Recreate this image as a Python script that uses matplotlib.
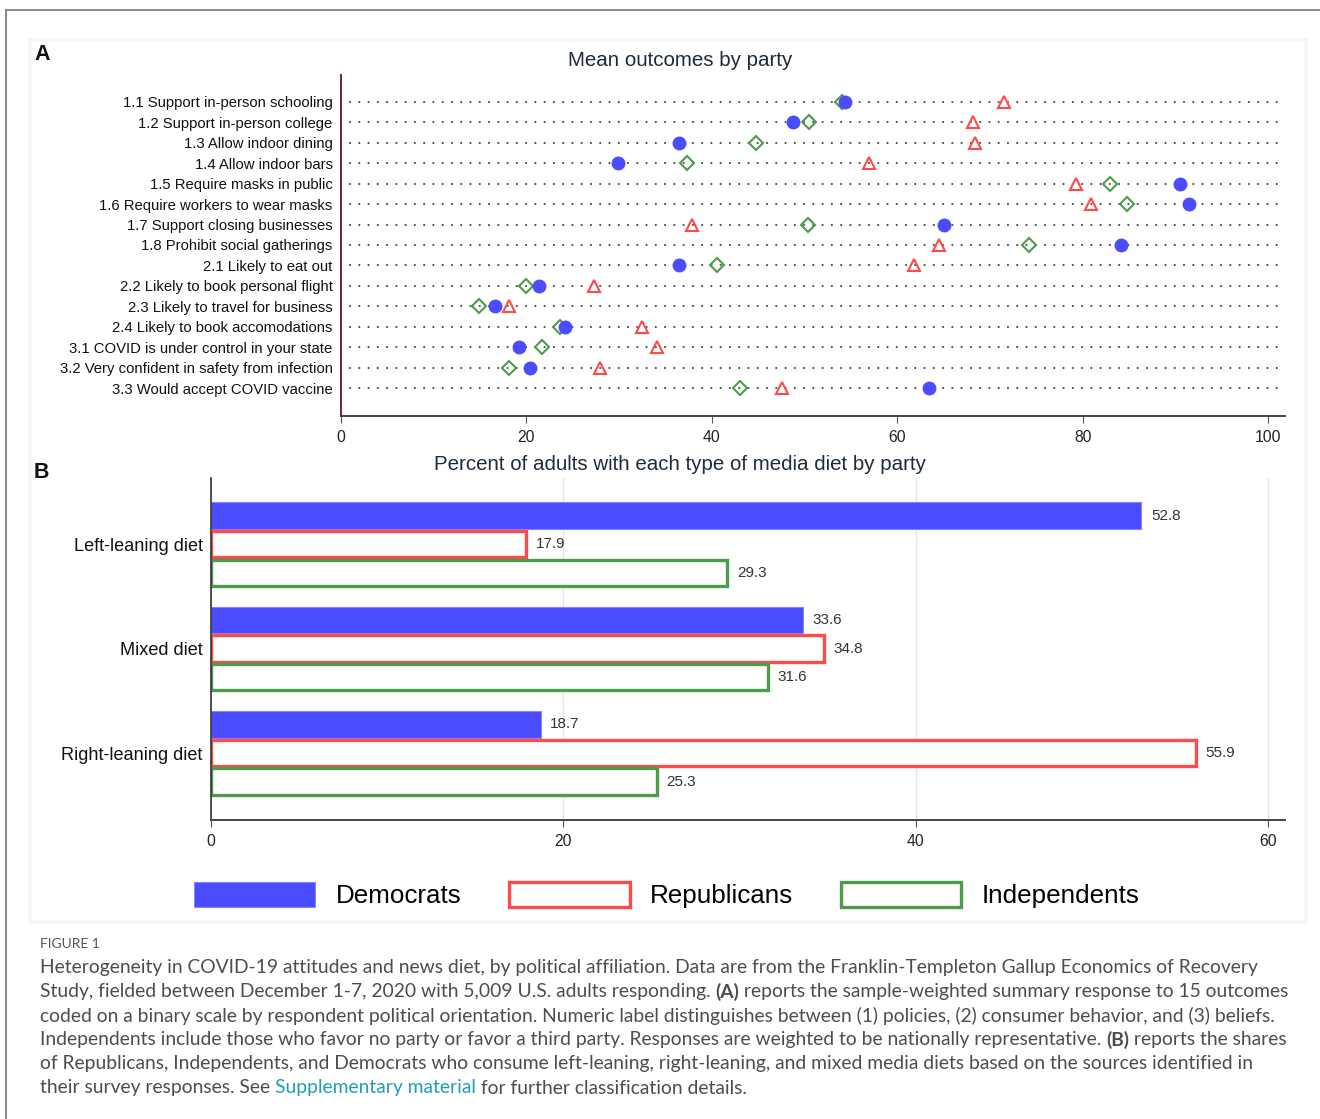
import matplotlib
matplotlib.use("Agg")
import matplotlib.pyplot as plt
from matplotlib.lines import Line2D
from matplotlib.patches import Rectangle
import numpy as np

W, H = 1320, 1119
SANS = ["Liberation Sans", "DejaVu Sans"]
CAPTION_FONT = ["Lato", "DejaVu Sans"]

plt.rcParams["font.family"] = SANS

# Panel A: mean outcomes by party (percent)
outcomes = [
    "1.1 Support in-person schooling",
    "1.2 Support in-person college",
    "1.3 Allow indoor dining",
    "1.4 Allow indoor bars",
    "1.5 Require masks in public",
    "1.6 Require workers to wear masks",
    "1.7 Support closing businesses",
    "1.8 Prohibit social gatherings",
    "2.1 Likely to eat out",
    "2.2 Likely to book personal flight",
    "2.3 Likely to travel for business",
    "2.4 Likely to book accomodations",
    "3.1 COVID is under control in your state",
    "3.2 Very confident in safety from infection",
    "3.3 Would accept COVID vaccine",
]
dem_mean = [54.4, 48.7, 36.5, 29.9, 90.5, 91.5, 65.0, 84.1, 36.5, 21.3, 16.6, 24.2, 19.2, 20.4, 63.4]
rep_mean = [71.5, 68.2, 68.4, 56.9, 79.3, 80.9, 37.8, 64.5, 61.8, 27.3, 18.1, 32.5, 34.1, 27.9, 47.6]
ind_mean = [54.0, 50.5, 44.7, 37.3, 82.9, 84.8, 50.4, 74.2, 40.6, 19.9, 14.9, 23.6, 21.7, 18.1, 43.0]

# Panel B: media diet shares by party (percent)
diets = ["Left-leaning diet", "Mixed diet", "Right-leaning diet"]
dem_diet = [52.8, 33.6, 18.7]
rep_diet = [17.9, 34.8, 55.9]
ind_diet = [29.3, 31.6, 25.3]

parties = ["Democrats", "Republicans", "Independents"]

BLUE = "#4b4bff"
RED = "#ff4a4a"
GREEN = "#4c9c4c"


def fx(px):
    return px / W


def fy(py):
    return 1 - py / H


fig = plt.figure(figsize=(W / 100, H / 100), dpi=100)
fig.patch.set_facecolor("white")

# page frame and figure panel
fig.add_artist(Line2D([fx(6), fx(6)], [fy(10), 0], transform=fig.transFigure,
                      color="#8c8c8c", lw=1.5))
fig.add_artist(Line2D([fx(6), 1], [fy(10), fy(10)], transform=fig.transFigure,
                      color="#8c8c8c", lw=1.5))
fig.add_artist(Rectangle((fx(30), fy(922)), fx(1306) - fx(30), fy(40) - fy(922),
                         transform=fig.transFigure, facecolor="white",
                         edgecolor="#f6f6f6", lw=3, zorder=0))

# ---- panel A ----
axA = fig.add_axes([fx(341), fy(416), (1285 - 341) / W, (416 - 75) / H])
axA.set_facecolor("none")
rows = np.arange(len(outcomes))
for r in rows:
    axA.plot([1, 101], [r, r], ls=(0, (0.01, 4.16)), lw=1.6, color="#505050",
             dash_capstyle="round", zorder=1)
axA.plot(ind_mean, rows, "D", ls="none", ms=7.5, mfc="none", mec=GREEN, mew=1.5, zorder=3)
axA.plot(rep_mean, rows, "^", ls="none", ms=8, mfc="none", mec=RED, mew=1.5, zorder=4)
axA.plot(dem_mean, rows, "o", ls="none", ms=9, color=BLUE, zorder=5)

axA.set_xlim(0, 101.8)
axA.set_ylim(15.37, -1.32)
axA.set_yticks(rows)
axA.set_yticklabels(outcomes, fontsize=10.7, color="#111111")
axA.set_xticks(range(0, 101, 20))
axA.tick_params(axis="y", length=0, pad=6)
axA.tick_params(axis="x", length=5, color="#555555", labelsize=11.3,
                labelcolor="#222222", pad=5)
for s in ("top", "right"):
    axA.spines[s].set_visible(False)
axA.spines["left"].set_color("#6e2233")
axA.spines["left"].set_linewidth(1.4)
axA.spines["bottom"].set_color("#444444")
axA.spines["bottom"].set_linewidth(1.4)

# ---- panel B ----
axB = fig.add_axes([fx(211), fy(820), (1285 - 211) / W, (820 - 478) / H])
axB.set_facecolor("none")
groups = np.arange(len(diets))
off, h = 0.273, 0.25
bars_d = axB.barh(groups - off, dem_diet, height=h, color=BLUE, edgecolor="#8585ff",
                  lw=0.8, label=parties[0])
bars_r = axB.barh(groups, rep_diet, height=h, facecolor="white", edgecolor=RED,
                  lw=2.4, label=parties[1])
bars_i = axB.barh(groups + off, ind_diet, height=h, facecolor="white", edgecolor=GREEN,
                  lw=2.4, label=parties[2])
for bars in (bars_d, bars_r, bars_i):
    axB.bar_label(bars, fmt="%.1f", padding=7, fontsize=11, color="#333333")

axB.set_xlim(0, 60.95)
axB.set_ylim(2.641, -0.632)
axB.set_yticks(groups)
axB.set_yticklabels(diets, fontsize=13.1, color="#111111")
axB.set_xticks(range(0, 61, 20))
axB.set_axisbelow(True)
axB.xaxis.grid(True, color="#e6e6e6", lw=1)
axB.tick_params(axis="y", length=0, pad=6)
axB.tick_params(axis="x", length=5, color="#555555", labelsize=11.3,
                labelcolor="#222222", pad=5)
for s in ("top", "right"):
    axB.spines[s].set_visible(False)
axB.spines["left"].set_color("#333333")
axB.spines["left"].set_linewidth(1.2)
axB.spines["bottom"].set_color("#444444")
axB.spines["bottom"].set_linewidth(1.4)

# titles and panel letters
fig.text(fx(680), fy(61), "Mean outcomes by party", ha="center", va="center",
         fontsize=14.8, color="#1d2b3b")
fig.text(fx(680), fy(464), "Percent of adults with each type of media diet by party",
         ha="center", va="center", fontsize=14.8, color="#1d2b3b")
fig.text(fx(34), fy(55), "A", ha="left", va="center", fontsize=15.5, fontweight="bold",
         color="#111111")
fig.text(fx(34), fy(472), "B", ha="left", va="center", fontsize=15.5, fontweight="bold",
         color="#111111")

# legend
fig.legend([bars_d, bars_r, bars_i], parties, loc="center",
           bbox_to_anchor=(fx(667), fy(895)), ncol=3, frameon=False, fontsize=18.7,
           handlelength=4.65, handleheight=1.15, handletextpad=0.78,
           columnspacing=1.83)

# caption
CAP_GREY = "#4d4d4d"
TEAL = "#1f9fb3"
fig.text(fx(40), fy(944), "FIGURE 1", ha="left", va="center", fontsize=10,
         color="#555555", family=CAPTION_FONT)

caption = [
    [("Heterogeneity in COVID-19 attitudes and news diet, by political affiliation. Data are from "
      "the Franklin-Templeton Gallup Economics of Recovery", "normal", CAP_GREY)],
    [("Study, fielded between December 1-7, 2020 with 5,009 U.S. adults responding. ", "normal", CAP_GREY),
     ("(A)", "bold", CAP_GREY),
     (" reports the sample-weighted summary response to 15 outcomes", "normal", CAP_GREY)],
    [("coded on a binary scale by respondent political orientation. Numeric label distinguishes "
      "between (1) policies, (2) consumer behavior, and (3) beliefs.", "normal", CAP_GREY)],
    [("Independents include those who favor no party or favor a third party. Responses are weighted "
      "to be nationally representative. ", "normal", CAP_GREY),
     ("(B)", "bold", CAP_GREY),
     (" reports the shares", "normal", CAP_GREY)],
    [("of Republicans, Independents, and Democrats who consume left-leaning, right-leaning, and mixed "
      "media diets based on the sources identified in", "normal", CAP_GREY)],
    [("their survey responses. See ", "normal", CAP_GREY),
     ("Supplementary material", "normal", TEAL),
     (" for further classification details.", "normal", CAP_GREY)],
]

renderer = fig.canvas.get_renderer()
for k, parts in enumerate(caption):
    x = fx(40)
    y = fy(968 + 24 * k)
    for text, weight, color in parts:
        t = fig.text(x, y, text, ha="left", va="center", fontsize=13.85,
                     fontweight=weight, color=color, family=CAPTION_FONT)
        x = t.get_window_extent(renderer).x1 / fig.bbox.width

fig.savefig("out.png", dpi=100)
